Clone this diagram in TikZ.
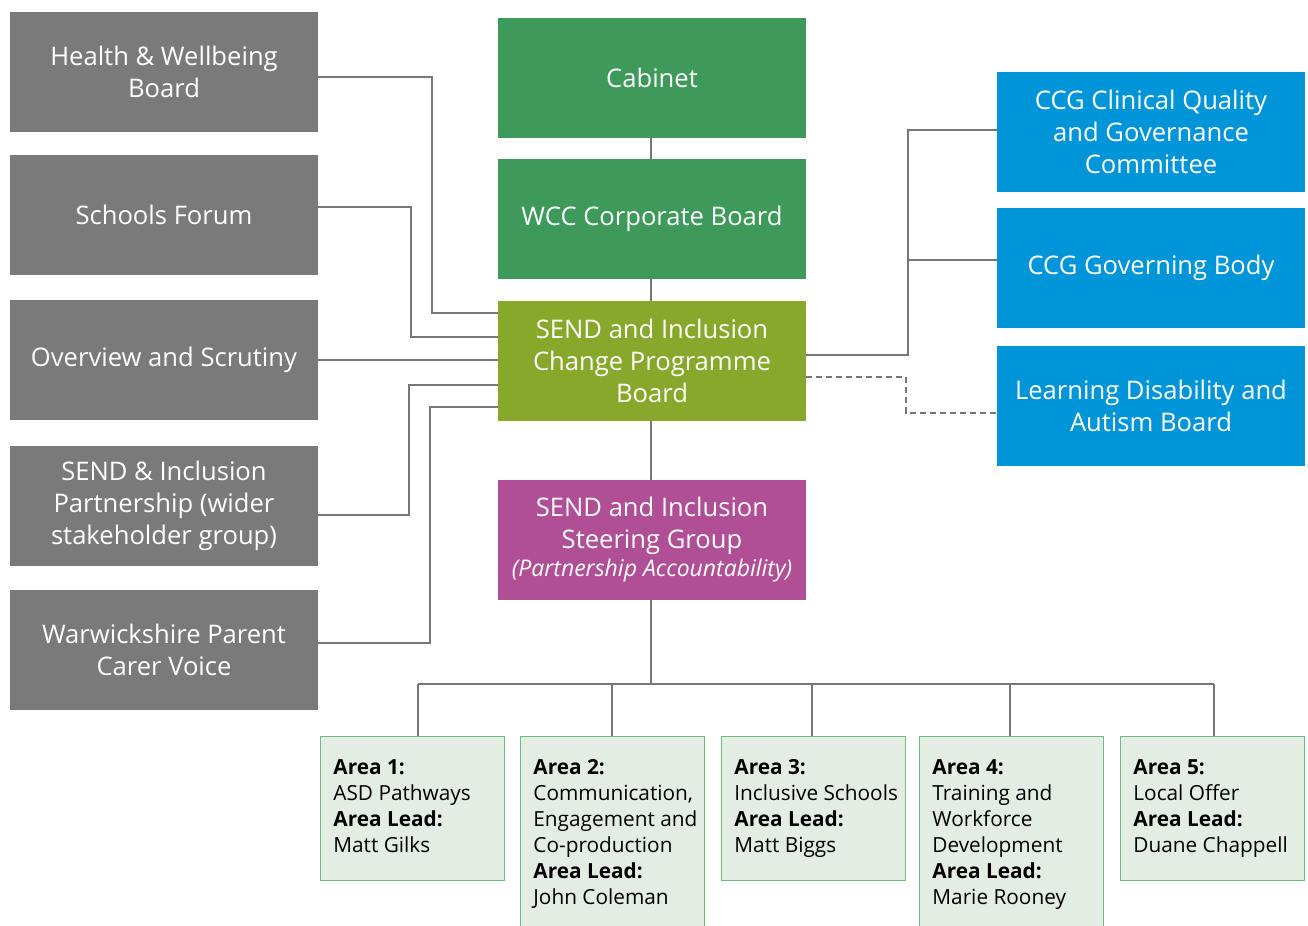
\documentclass[tikz,border=0pt]{standalone}
\usepackage{fontspec}
\setmainfont{Open Sans}
\definecolor{boxgrey}{HTML}{7A7A7A}
\definecolor{boxgreen}{HTML}{3D9A5A}
\definecolor{boxolive}{HTML}{87A82A}
\definecolor{boxpurple}{HTML}{B04E96}
\definecolor{boxblue}{HTML}{0094D8}
\definecolor{areafill}{HTML}{E3EDE4}
\definecolor{areaedge}{HTML}{6DBB7D}
\definecolor{linegrey}{HTML}{777777}
\begin{document}
\begin{tikzpicture}[x=0.5pt,y=-0.5pt,
  box/.style={rectangle, minimum width=154pt, minimum height=60pt, inner sep=0pt,
    align=center, text=white, font=\fontsize{12.8}{16}\selectfont},
  greybox/.style={box, fill=boxgrey},
  greenbox/.style={box, fill=boxgreen},
  olivebox/.style={box, fill=boxolive},
  purplebox/.style={box, fill=boxpurple},
  bluebox/.style={box, fill=boxblue},
  areabox/.style={rectangle, draw=areaedge, line width=0.5pt, fill=areafill,
    minimum width=92pt, inner sep=0pt},
  areatext/.style={anchor=north west, inner sep=0pt, align=left,
    font=\fontsize{10.4}{13}\selectfont, text=black},
  conn/.style={draw=linegrey, line width=1pt},
  dashconn/.style={conn, dash pattern=on 3pt off 2pt}]
\useasboundingbox (0,0) rectangle (1308,926);

% left grey boxes
\node[greybox] (hw) at (164,72) {Health \& Wellbeing\\Board};
\node[greybox] (sf) at (164,215) {Schools Forum};
\node[greybox] (ov) at (164,360) {Overview and Scrutiny};
\node[greybox] (sp) at (164,506) {SEND \& Inclusion\\Partnership (wider\\stakeholder group)};
\node[greybox] (wp) at (164,650) {Warwickshire Parent\\Carer Voice};

% centre
\node[greenbox] (cab) at (652,78) {Cabinet};
\node[greenbox] (wcc) at (652,219) {WCC Corporate Board};
\node[olivebox] (board) at (652,361) {SEND and Inclusion\\Change Programme\\Board};
\node[purplebox] (steer) at (652,540) {SEND and Inclusion\\Steering Group\\[-2pt]{\itshape\fontsize{11.5}{14}\selectfont (Partnership Accountability)}};

% right
\node[bluebox] (ccq) at (1151,132) {CCG Clinical Quality\\and Governance\\Committee};
\node[bluebox] (ccg) at (1151,268) {CCG Governing Body};
\node[bluebox] (lda) at (1151,406) {Learning Disability and\\Autism Board};

% area boxes
\node[areabox, minimum height=72pt] (a1) at (412,808) {};
\node[areabox, minimum height=100pt] (a2) at (612,836) {};
\node[areabox, minimum height=72pt] (a3) at (813,808) {};
\node[areabox, minimum height=100pt] (a4) at (1011,836) {};
\node[areabox, minimum height=72pt] (a5) at (1212,808) {};

\node[areatext] (t1) at (333,759) {\textbf{Area 1:}\\ASD Pathways\\\textbf{Area Lead:}\\Matt Gilks};
\node[areatext] (t2) at (533,759) {\textbf{Area 2:}\\Communication,\\Engagement and\\Co-production\\\textbf{Area Lead:}\\John Coleman};
\node[areatext] (t3) at (734,759) {\textbf{Area 3:}\\Inclusive Schools\\\textbf{Area Lead:}\\Matt Biggs};
\node[areatext] (t4) at (932,759) {\textbf{Area 4:}\\Training and\\Workforce\\Development\\\textbf{Area Lead:}\\Marie Rooney};
\node[areatext] (t5) at (1133,759) {\textbf{Area 5:}\\Local Offer\\\textbf{Area Lead:}\\Duane Chappell};

% connectors left
\draw[conn] (hw.east |- 0,77) -- (432,77) -- (432,313) -- (board.west |- 0,313);
\draw[conn] (sf.east |- 0,207) -- (411,207) -- (411,337) -- (board.west |- 0,337);
\draw[conn] (ov.east |- 0,360) -- (board.west |- 0,360);
\draw[conn] (sp.east |- 0,515) -- (409,515) -- (409,385) -- (board.west |- 0,385);
\draw[conn] (wp.east |- 0,643) -- (430,643) -- (430,407) -- (board.west |- 0,407);

% connectors right
\draw[conn] (board.east |- 0,355) -- (908,355) -- (908,130) -- (ccq.west |- 0,130);
\draw[conn] (908,260) -- (ccg.west |- 0,260);
\draw[dashconn] (board.east |- 0,377) -- (906,377) -- (906,413) -- (lda.west |- 0,413);

% centre spine
\draw[conn] (cab.south -| 651,0) -- (wcc.north -| 651,0);
\draw[conn] (wcc.south -| 651,0) -- (board.north -| 651,0);
\draw[conn] (board.south -| 651,0) -- (steer.north -| 651,0);
\coordinate (bus) at (651,684);
\draw[conn] (steer.south -| 651,0) -- (bus);
\draw[conn] (418,684) -- (1214,684);
\draw[conn] (418,684) -- (a1.north -| 418,0);
\draw[conn] (612,684) -- (a2.north -| 612,0);
\draw[conn] (812,684) -- (a3.north -| 812,0);
\draw[conn] (1010,684) -- (a4.north -| 1010,0);
\draw[conn] (1214,684) -- (a5.north -| 1214,0);
\end{tikzpicture}
\end{document}
